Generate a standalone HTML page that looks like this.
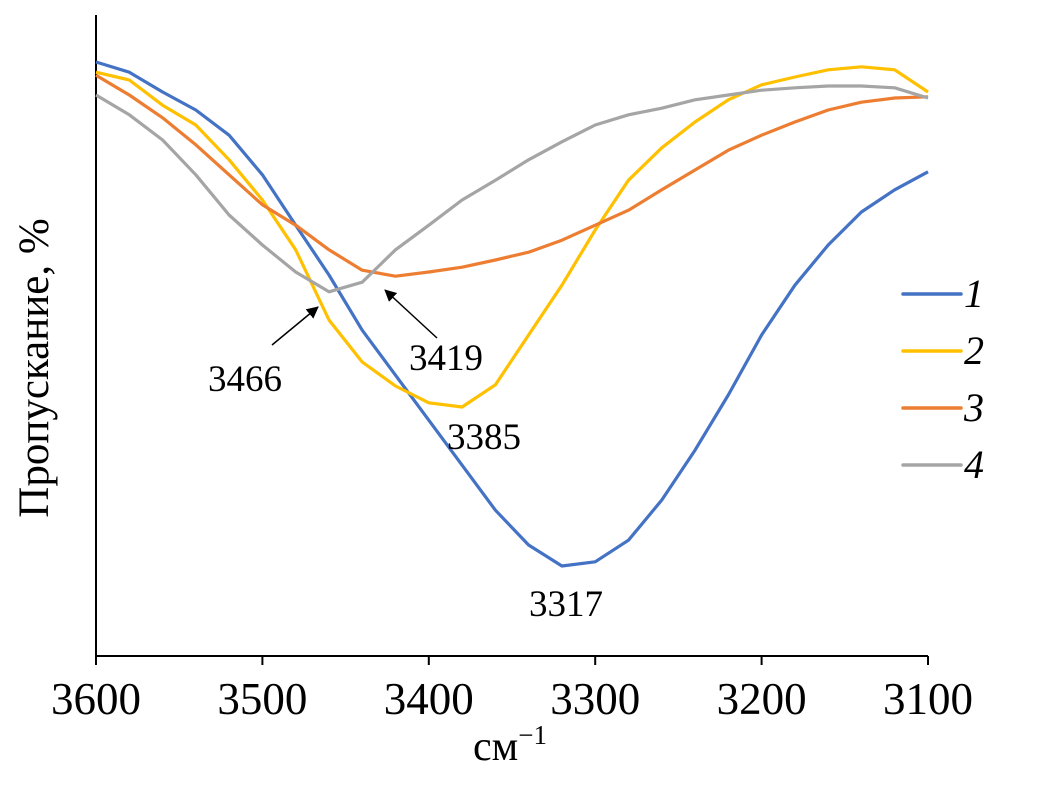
<!DOCTYPE html>
<html><head><meta charset="utf-8"><style>
body{margin:0;background:#fff}
svg{display:block;font-family:"Liberation Serif",serif}
</style></head><body>
<svg id="chart" width="1046" height="789" viewBox="0 0 1046 789">
<g id="axes"></g>
<g id="series"></g>
<g id="annots"></g>
<g id="legend"></g>
</svg>
<script>
const wavenumbers=[3600,3580,3560,3540,3520,3500,3480,3460,3440,3420,3400,3380,3360,3340,3320,3300,3280,3260,3240,3220,3200,3180,3160,3140,3120,3100];
const series1=[99.0,97.3,94.0,91.0,86.8,80.2,71.8,63.5,54.3,46.8,39.3,31.8,24.3,18.5,15.0,15.7,19.3,26.0,34.3,43.5,53.5,61.8,68.5,74.0,77.7,80.7];
const series2=[97.3,96.0,91.8,88.5,82.7,76.0,67.7,56.0,49.0,45.0,42.2,41.5,45.2,53.5,61.8,71.0,79.3,84.7,89.0,92.7,95.2,96.5,97.7,98.2,97.7,94.0];
const series3=[96.8,93.5,89.7,85.2,80.2,75.2,71.8,67.7,64.3,63.3,64.0,64.8,66.0,67.3,69.3,71.8,74.3,77.7,81.0,84.3,86.8,89.0,91.0,92.3,93.0,93.2];
const series4=[93.5,90.2,86.0,80.2,73.5,68.5,64.0,60.7,62.3,67.7,71.8,76.0,79.3,82.7,85.7,88.5,90.2,91.3,92.7,93.5,94.3,94.7,95.0,95.0,94.7,93.0];
const xTicks=[3600,3500,3400,3300,3200,3100];
const seriesNames=["1","2","3","4"];
const colors=["#4472C4","#FFC000","#ED7D31","#A5A5A5"];
const peaks=[{v:3466,label:"3466",lx:245,ly:391},{v:3419,label:"3419",lx:446,ly:370},{v:3385,label:"3385",lx:484,ly:449},{v:3317,label:"3317",lx:566,ly:616}];
const X0=96,X1=928,Y0=656,Y1=56;
const xs=v=>X0+(3600-v)/500*(X1-X0);
const ys=v=>Y0-v/100*(Y0-Y1);
const NS="http://www.w3.org/2000/svg";
function mk(t,a,p){const e=document.createElementNS(NS,t);for(const k in a)e.setAttribute(k,a[k]);p.appendChild(e);return e;}
const axes=document.getElementById('axes');
let e=mk('line',{x1:X0,y1:15,x2:X0,y2:Y0,stroke:'#000','stroke-width':2},axes);

e=mk('line',{x1:X0,y1:Y0,x2:X1,y2:Y0,stroke:'#000','stroke-width':2},axes);

xTicks.forEach(t=>{
 let l=mk('line',{x1:xs(t),y1:Y0,x2:xs(t),y2:Y0+9,stroke:'#000','stroke-width':2},axes);
 
 let tx=mk('text',{x:xs(t),y:714,'text-anchor':'middle','font-size':45},axes);tx.textContent=t;
 
});
e=mk('text',{x:510,y:760,'text-anchor':'middle','font-size':42},axes);e.innerHTML='см<tspan font-size="27" dy="-16">−1</tspan>';

e=mk('text',{x:0,y:0,'text-anchor':'middle','font-size':43,transform:'translate(48,368) rotate(-90)'},axes);e.textContent='Пропускание, %';

const all=[series1,series2,series3,series4];
const sg=document.getElementById('series');
all.forEach((s,i)=>{
 const pts=s.map((v,j)=>xs(wavenumbers[j]).toFixed(1)+','+ys(v).toFixed(1)).join(' ');
 const p=mk('polyline',{points:pts,fill:'none',stroke:colors[i],'stroke-width':3.2,'stroke-linejoin':'round'},sg);
 
});
const an=document.getElementById('annots');
const defs=mk('defs',{},an);
const m=mk('marker',{id:'ah',markerWidth:12,markerHeight:12,refX:11,refY:6,orient:'auto',markerUnits:'userSpaceOnUse'},defs);
mk('path',{d:'M0,0 L12,6 L0,12 z',fill:'#000'},m);
peaks.forEach(p=>{
 const t=mk('text',{x:p.lx,y:p.ly,'text-anchor':'middle','font-size':37},an);t.textContent=p.label;
 
});
e=mk('line',{x1:272,y1:345,x2:318,y2:307,stroke:'#000','stroke-width':1.5,'marker-end':'url(#ah)'},an);

e=mk('line',{x1:437,y1:338,x2:385,y2:290,stroke:'#000','stroke-width':1.5,'marker-end':'url(#ah)'},an);

const lg=document.getElementById('legend');
seriesNames.forEach((n,i)=>{
 const y=294+i*57;
 const l=mk('line',{x1:903,y1:y,x2:961,y2:y,stroke:colors[i],'stroke-width':3.5,'stroke-linecap':'round'},lg);
 
 const t=mk('text',{x:964,y:y+13,'font-size':40,'font-style':'italic'},lg);t.textContent=n;
 
});
</script>
</body></html>
